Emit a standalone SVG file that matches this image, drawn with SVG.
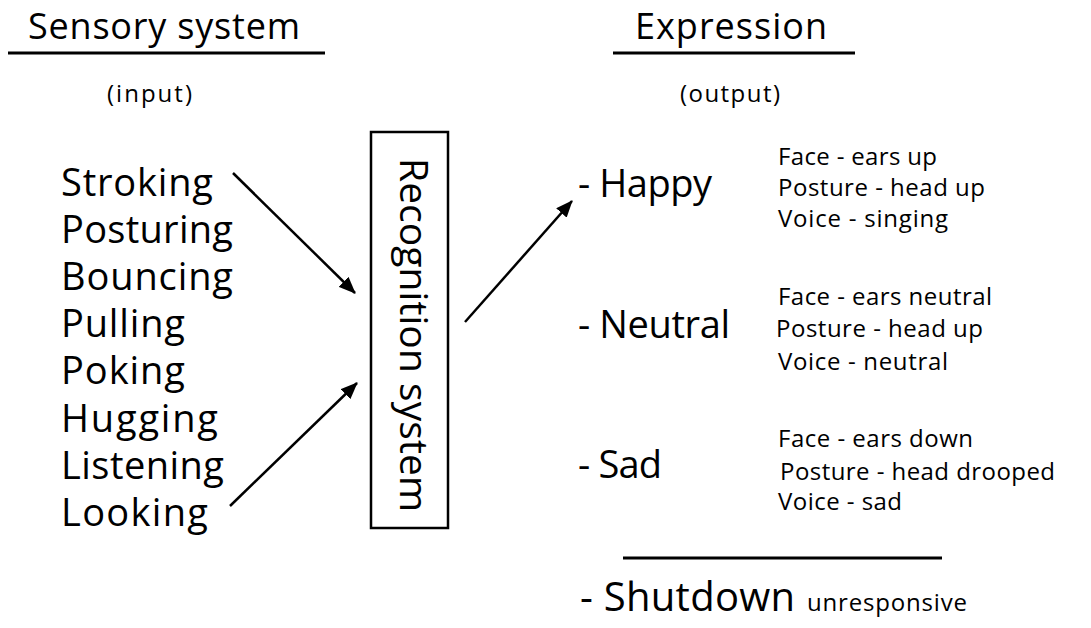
<svg xmlns="http://www.w3.org/2000/svg" width="1091" height="628" viewBox="0 0 1091 628">
<style>
text{font-family:"Open Sans","Noto Sans","Liberation Sans",sans-serif;fill:#000}
.h{font-size:36px}
.p{font-size:24px}
.i{font-size:38px}
.e{font-size:38px}
.s{font-size:24px}
.rule{stroke:#000;stroke-width:3}
.arr{stroke:#000;stroke-width:2.5;fill:none;marker-end:url(#ah)}
</style>
<defs>
<marker id="ah" markerUnits="userSpaceOnUse" markerWidth="18" markerHeight="14" refX="16" refY="7" orient="auto">
<path d="M0,0 L17,7 L0,14 Z" fill="#000"/>
</marker>
</defs>
<g id="header-input">
<text class="h" x="28" y="39" textLength="272">Sensory system</text>
<line class="rule" x1="8" y1="53" x2="325" y2="53"/>
<text class="p" x="107" y="102" textLength="85">(input)</text>
</g>
<g id="header-output">
<text class="h" x="635" y="39" textLength="192">Expression</text>
<line class="rule" x1="613" y1="53" x2="855" y2="53"/>
<text class="p" x="680" y="102" textLength="100">(output)</text>
</g>
<g id="inputs">
<text class="i" x="61" y="196" textLength="152">Stroking</text>
<text class="i" x="61" y="243" textLength="172">Posturing</text>
<text class="i" x="61" y="290" textLength="172">Bouncing</text>
<text class="i" x="61" y="337" textLength="124">Pulling</text>
<text class="i" x="61" y="384" textLength="124">Poking</text>
<text class="i" x="61" y="432" textLength="157">Hugging</text>
<text class="i" x="61" y="479" textLength="163">Listening</text>
<text class="i" x="61" y="526" textLength="147">Looking</text>
</g>
<g id="recognition">
<rect x="371" y="132" width="77" height="396" fill="none" stroke="#000" stroke-width="2.5"/>
<text transform="translate(400,158) rotate(90)" x="0" y="0" font-size="39" textLength="354">Recognition system</text>
</g>
<g id="happy">
<text class="e" x="578" y="197" textLength="134">- Happy</text>
<text class="s" x="778" y="165" textLength="159">Face - ears up</text>
<text class="s" x="778" y="196" textLength="207">Posture - head up</text>
<text class="s" x="778" y="227" textLength="170">Voice - singing</text>
</g>
<g id="neutral">
<text class="e" x="578" y="338" textLength="152">- Neutral</text>
<text class="s" x="778" y="305" textLength="214">Face - ears neutral</text>
<text class="s" x="776" y="337" textLength="207">Posture - head up</text>
<text class="s" x="778" y="370" textLength="170">Voice - neutral</text>
</g>
<g id="sad">
<text class="e" x="578" y="478" textLength="84">- Sad</text>
<text class="s" x="778" y="447" textLength="195">Face - ears down</text>
<text class="s" x="780" y="480" textLength="275">Posture - head drooped</text>
<text class="s" x="778" y="510" textLength="124">Voice - sad</text>
</g>
<line class="rule" x1="623" y1="558" x2="942" y2="558"/>
<g id="shutdown">
<text x="580" y="611" font-size="40" textLength="215">- Shutdown</text>
<text class="s" x="807" y="611" textLength="160">unresponsive</text>
</g>
<g id="connectors">
<line class="arr" x1="233" y1="173" x2="355" y2="293"/>
<line class="arr" x1="230" y1="506" x2="357" y2="383"/>
<line class="arr" x1="465" y1="322" x2="572" y2="201"/>
</g>
</svg>
